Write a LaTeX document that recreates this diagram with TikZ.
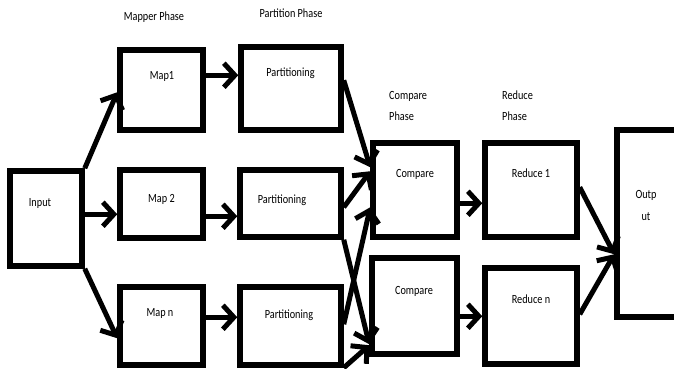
\documentclass[tikz,border=0pt]{standalone}
\usepackage{fontspec}
\setmainfont{Carlito}[FakeStretch=0.82]
\usetikzlibrary{arrows.meta,calc}
\tikzset{
  box/.style={draw=black, line width=5.5pt, rectangle, inner sep=0pt, line join=miter},
  lbl/.style={inner sep=0pt, anchor=base, font=\fontsize{12.5}{14}\selectfont, text=black},
  lbll/.style={lbl, anchor=base west},
  arr/.style={line width=5pt, -{Straight Barb[length=11pt,width=24pt,line join=miter]}},
}
\begin{document}
\begin{tikzpicture}[x=1pt,y=-1pt]
\useasboundingbox (0,0) rectangle (674,369);
% boxes
\node[box, minimum width=72pt, minimum height=95pt] (in) at (46,218.5) {};
\node[box, minimum width=83pt, minimum height=80pt] (map1) at (161.5,90) {};
\node[box, minimum width=83pt, minimum height=68pt] (map2) at (161.5,204) {};
\node[box, minimum width=83pt, minimum height=78pt] (mapn) at (161.5,326) {};
\node[box, minimum width=100pt, minimum height=83pt] (p1) at (291,88.5) {};
\node[box, minimum width=101pt, minimum height=67pt] (p2) at (290.5,203.5) {};
\node[box, minimum width=101pt, minimum height=78pt] (pn) at (290.5,326) {};
\node[box, minimum width=84pt, minimum height=94pt] (c1) at (415,190) {};
\node[box, minimum width=85pt, minimum height=96pt] (c2) at (414.5,306) {};
\node[box, minimum width=92pt, minimum height=94pt] (r1) at (531,190) {};
\node[box, minimum width=92pt, minimum height=96pt] (rn) at (531,316) {};
\node[box, minimum width=83pt, minimum height=187pt] (out) at (658.5,223.5) {};
% texts
\node[lbl] (mph) at (154,21) {Mapper Phase};
\node[lbl] (pph) at (291,18) {Partition Phase};
\node[lbll] (cph1) at (389,99) {Compare};
\node[lbll] (cph2) at (389,120) {Phase};
\node[lbll] (rph1) at (502,99) {Reduce};
\node[lbll] (rph2) at (502,120) {Phase};
\node[lbl] (int) at (40,206) {Input};
\node[lbl] (map1t) at (162,79) {Map1};
\node[lbl] (map2t) at (161.5,202) {Map 2};
\node[lbl] (mapnt) at (160,316) {Map n};
\node[lbl] (p1t) at (290.5,77) {Partitioning};
\node[lbl] (p2t) at (282,203) {Partitioning};
\node[lbl] (pnt) at (289,318) {Partitioning};
\node[lbl] (c1t) at (415,177) {Compare};
\node[lbl] (c2t) at (414,294) {Compare};
\node[lbl] (r1t) at (531,177) {Reduce 1};
\node[lbl] (rnt) at (531,303) {Reduce n};
\node[lbl] (outt1) at (646,198) {Outp};
\node[lbl] (outt2) at (646,220) {ut};
% connectors
\draw[arr] (in.north east) -- ([yshift=-45pt]map1.north west);
\draw[arr] ([yshift=-46pt]in.north east) coordinate (a1) -- (a1 -| map2.west);
\draw[arr] (in.south east) -- ([yshift=-54pt]mapn.north west);
\draw[arr] ([yshift=-28pt]map1.north east) coordinate (a2) -- (a2 -| p1.west);
\draw[arr] ([yshift=-49pt]map2.north east) coordinate (a3) -- (a3 -| p2.west);
\draw[arr] ([yshift=-33pt]mapn.north east) coordinate (a4) -- (a4 -| pn.west);
\draw[arr] ([yshift=-36pt]p1.north east) -- ([yshift=-27pt]c1.north west);
\draw[arr] ([yshift=-40pt]p2.north east) -- ([yshift=-31pt]c1.north west);
\draw[arr] (p2.south east) -- ([yshift=-89pt]c2.north west);
\draw[arr] ([yshift=-40pt]pn.north east) -- ([yshift=-67pt]c1.north west);
\draw[arr] (pn.south east) -- ([yshift=-90pt]c2.north west);
\draw[arr] ([yshift=-63pt]c1.north east) coordinate (a5) -- (a5 -| r1.west);
\draw[arr] ([yshift=-61pt]c2.north east) coordinate (a6) -- (a6 -| rn.west);
\draw[arr] ([yshift=-47pt]r1.north east) -- ([yshift=-127pt]out.north west);
\draw[arr] ([yshift=-49pt]rn.north east) -- ([yshift=-127pt]out.north west);
\end{tikzpicture}
\end{document}
